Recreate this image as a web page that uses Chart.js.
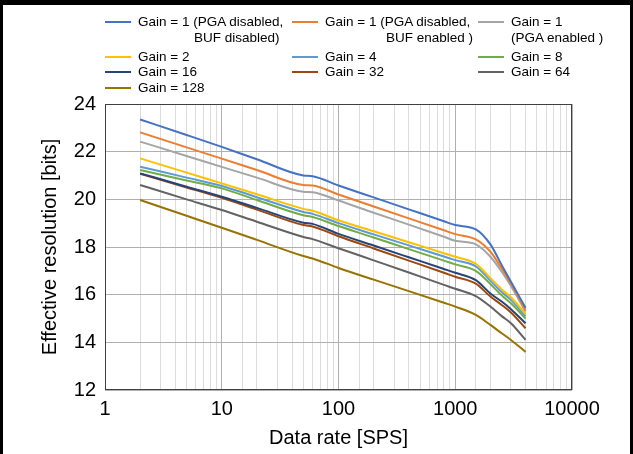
<!DOCTYPE html>
<html><head><meta charset="utf-8">
<script src="https://cdn.jsdelivr.net/npm/chart.js@4"></script>
<style>
html,body{margin:0;padding:0;background:#fff;}
#wrap{position:relative;width:633px;height:454px;overflow:hidden;font-family:"Liberation Sans",Arial,sans-serif;}
#c{position:absolute;left:0;top:0;}
#frame{position:absolute;left:0;top:0;width:633px;height:470px;box-sizing:border-box;border-top:5px solid #000;border-left:3px solid #000;border-right:3px solid #000;pointer-events:none;}
.lg{position:absolute;font-size:13.5px;color:#000;line-height:16px;white-space:nowrap;}
.sw{position:absolute;height:2px;width:26px;}
</style></head>
<body><div id="wrap"><canvas id="c" width="633" height="454"></canvas><div id="legend"></div><div id="frame"></div></div>
<script>
// ---- data ----
const dataRates = [2, 5, 10, 20, 50, 60, 100, 200, 400, 800, 1000, 1500, 2000, 2500, 3000, 4000];
const seriesLabels = [
  ['Gain = 1 (PGA disabled,', 'BUF disabled)'],
  ['Gain = 1 (PGA disabled,', 'BUF enabled )'],
  ['Gain = 1', '(PGA enabled )'],
  ['Gain = 2'], ['Gain = 4'], ['Gain = 8'],
  ['Gain = 16'], ['Gain = 32'], ['Gain = 64'],
  ['Gain = 128']
];
const gain1BufOff = [23.35, 22.70, 22.20, 21.68, 21.00, 20.97, 20.58, 20.08, 19.58, 19.08, 18.92, 18.74, 18.11, 17.24, 16.54, 15.45];
const gain1BufOn  = [22.81, 22.18, 21.71, 21.23, 20.60, 20.58, 20.20, 19.70, 19.20, 18.70, 18.54, 18.32, 17.80, 17.10, 16.47, 15.36];
const gain1Pga    = [22.42, 21.82, 21.36, 20.91, 20.32, 20.30, 19.95, 19.44, 18.94, 18.43, 18.26, 18.11, 17.59, 16.96, 16.36, 15.29];
const gain2       = [21.72, 21.12, 20.67, 20.21, 19.60, 19.52, 19.12, 18.66, 18.20, 17.74, 17.59, 17.29, 16.69, 16.22, 15.89, 15.19];
const gain4       = [21.37, 20.91, 20.56, 20.09, 19.47, 19.39, 19.00, 18.53, 18.07, 17.60, 17.45, 17.19, 16.59, 16.11, 15.78, 15.10];
const gain8       = [21.23, 20.79, 20.46, 19.97, 19.33, 19.26, 18.88, 18.40, 17.91, 17.43, 17.27, 17.00, 16.45, 15.97, 15.64, 15.00];
const gain16      = [21.09, 20.53, 20.11, 19.64, 19.02, 18.97, 18.55, 18.06, 17.57, 17.08, 16.92, 16.61, 16.05, 15.71, 15.39, 14.80];
const gain32      = [21.07, 20.50, 20.06, 19.57, 18.92, 18.86, 18.45, 17.94, 17.43, 16.92, 16.75, 16.46, 15.92, 15.57, 15.25, 14.59];
const gain64      = [20.60, 20.00, 19.55, 19.06, 18.42, 18.33, 17.95, 17.44, 16.93, 16.41, 16.25, 15.94, 15.50, 15.10, 14.80, 14.10];
const gain128     = [19.97, 19.31, 18.81, 18.30, 17.62, 17.52, 17.12, 16.63, 16.15, 15.66, 15.50, 15.15, 14.73, 14.38, 14.10, 13.60];
const xTickLabels = [1, 10, 100, 1000, 10000];
const yTickLabels = [12, 14, 16, 18, 20, 22, 24];

// ---- styles ----
const seriesValues = [gain1BufOff, gain1BufOn, gain1Pga, gain2, gain4, gain8, gain16, gain32, gain64, gain128];
const colors = ['#4472C4', '#ED7D31', '#A5A5A5', '#FFC000', '#5B9BD5', '#70AD47', '#264478', '#9E480E', '#636363', '#997300'];

const datasets = seriesValues.map((vals, i) => ({
  label: seriesLabels[i].join(' '),
  data: dataRates.map((x, j) => ({x: x, y: vals[j]})),
  borderColor: colors[i],
  backgroundColor: colors[i],
  borderWidth: 2,
  pointRadius: 0,
  fill: false,
  cubicInterpolationMode: 'monotone',
  order: i
}));

const isDecade = v => Math.abs(Math.log10(v) - Math.round(Math.log10(v))) < 1e-9;

const framePlugin = {
  id: 'frame',
  afterDraw(chart) {
    const a = chart.chartArea, c = chart.ctx;
    c.save();
    c.strokeStyle = '#404040';
    c.lineWidth = 1;
    c.strokeRect(Math.round(a.left) + 0.5, Math.round(a.top) + 0.5, Math.round(a.right - a.left) - 1, Math.round(a.bottom - a.top) - 1);
    c.restore();
  }
};

new Chart(document.getElementById('c'), {
  type: 'line',
  data: {datasets},
  plugins: [framePlugin],
  options: {
    responsive: false,
    animation: false,
    devicePixelRatio: 1,
    layout: {padding: {left: 30, top: 104, right: 61, bottom: 0}},
    plugins: {legend: {display: false}, tooltip: {enabled: false}},
    scales: {
      x: {
        type: 'logarithmic', min: 1, max: 10000,
        border: {display: false},
        grid: {
          drawTicks: false,
          color: ctx => (ctx.tick && isDecade(ctx.tick.value)) ? '#b0b0b0' : '#dcdcdc',
          lineWidth: 1
        },
        ticks: {
          autoSkip: false, maxRotation: 0, padding: 7, color: '#000',
          font: {family: '"Liberation Sans", Arial, sans-serif', size: 20},
          callback: v => xTickLabels.includes(Math.round(v)) && isDecade(v) ? String(Math.round(v)) : ''
        },
        title: {display: true, text: 'Data rate [SPS]', color: '#000',
          font: {family: '"Liberation Sans", Arial, sans-serif', size: 20}, padding: {top: 0, bottom: 4}},
        afterFit: s => { s.height = 64; }
      },
      y: {
        min: 12, max: 24,
        border: {display: false},
        grid: {
          drawTicks: false,
          color: ctx => (ctx.tick && ctx.tick.value % 2 === 0) ? '#b0b0b0' : '#dcdcdc',
          lineWidth: 1
        },
        ticks: {
          stepSize: 1, padding: 9, color: '#000',
          font: {family: '"Liberation Sans", Arial, sans-serif', size: 20},
          callback: v => yTickLabels.includes(v) ? String(v) : ''
        },
        title: {display: true, text: 'Effective resolution [bits]', color: '#000',
          font: {family: '"Liberation Sans", Arial, sans-serif', size: 20}, padding: {top: 8, bottom: 0}},
        afterFit: s => { s.width = 75; }
      }
    }
  }
});

// ---- HTML legend built from the datasets ----
const legendCols = [105, 292, 478];
const legendRows = [22, 57, 72, 88];
const secondLineIndent = [56, 61, 0];
const lg = document.getElementById('legend');
seriesLabels.forEach((lab, i) => {
  const col = i % 3, row = Math.floor(i / 3);
  const x = legendCols[col], y = legendRows[row];
  const sw = document.createElement('div');
  sw.className = 'sw';
  sw.style.left = x + 'px'; sw.style.top = (y - 1) + 'px';
  sw.style.background = colors[i];
  lg.appendChild(sw);
  const t = document.createElement('div');
  t.className = 'lg';
  t.style.left = (x + 33) + 'px'; t.style.top = (y - 8) + 'px';
  lab.forEach((line, k) => {
    const s = document.createElement('div');
    s.textContent = line;
    if (k > 0) s.style.paddingLeft = secondLineIndent[col] + 'px';
    t.appendChild(s);
  });
  lg.appendChild(t);
});
</script>
</body></html>
